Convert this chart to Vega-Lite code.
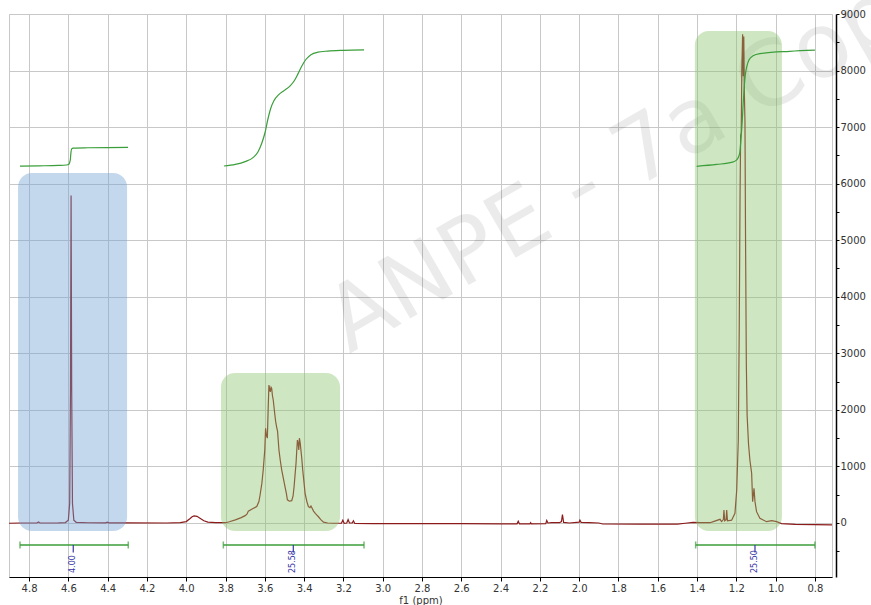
{
  "$schema": "https://vega.github.io/schema/vega-lite/v6.json",
  "width": 823,
  "height": 563,
  "autosize": {"type": "none"},
  "padding": {"left": 9, "top": 14, "right": 39, "bottom": 28},
  "background": "white",
  "config": {
    "view": {"stroke": "#c8c8c8", "strokeWidth": 1},
    "font": "DejaVu Sans"
  },
  "resolve": {"axis": {"y": "independent"}},
  "datasets": {
    "spec": [
      {"x":4.902,"y":-5},{"x":4.85,"y":0},{"x":4.76,"y":0},{"x":4.752,"y":18},{"x":4.744,"y":0},{"x":4.65,"y":2},{"x":4.615,"y":8},{"x":4.6,"y":50},{"x":4.593,"y":350},{"x":4.589,"y":2400},{"x":4.586,"y":5790},{"x":4.583,"y":2400},{"x":4.579,"y":350},{"x":4.572,"y":50},{"x":4.56,"y":12},{"x":4.5,"y":4},{"x":4.41,"y":3},{"x":4.402,"y":15},{"x":4.394,"y":3},{"x":4.3,"y":2},{"x":4.1,"y":0},{"x":4.03,"y":5},{"x":4.0,"y":25},{"x":3.98,"y":80},{"x":3.97,"y":110},{"x":3.96,"y":125},{"x":3.945,"y":118},{"x":3.93,"y":85},{"x":3.91,"y":40},{"x":3.89,"y":15},{"x":3.85,"y":5},{"x":3.8,"y":5},{"x":3.78,"y":22},{"x":3.75,"y":55},{"x":3.72,"y":95},{"x":3.7,"y":130},{"x":3.69,"y":160},{"x":3.684,"y":210},{"x":3.66,"y":255},{"x":3.641,"y":290},{"x":3.63,"y":380},{"x":3.624,"y":495},{"x":3.615,"y":700},{"x":3.608,"y":940},{"x":3.6,"y":1300},{"x":3.596,"y":1674},{"x":3.592,"y":1550},{"x":3.587,"y":1500},{"x":3.583,"y":2000},{"x":3.579,"y":2440},{"x":3.575,"y":2370},{"x":3.572,"y":2320},{"x":3.568,"y":2400},{"x":3.565,"y":2380},{"x":3.561,"y":2250},{"x":3.557,"y":2175},{"x":3.55,"y":1950},{"x":3.545,"y":1800},{"x":3.54,"y":1700},{"x":3.535,"y":1620},{"x":3.528,"y":1290},{"x":3.521,"y":1100},{"x":3.514,"y":940},{"x":3.505,"y":780},{"x":3.497,"y":640},{"x":3.49,"y":520},{"x":3.485,"y":410},{"x":3.475,"y":385},{"x":3.463,"y":395},{"x":3.456,"y":480},{"x":3.451,"y":640},{"x":3.446,"y":850},{"x":3.441,"y":1055},{"x":3.437,"y":1300},{"x":3.434,"y":1467},{"x":3.43,"y":1400},{"x":3.427,"y":1290},{"x":3.424,"y":1500},{"x":3.42,"y":1420},{"x":3.417,"y":1320},{"x":3.412,"y":1150},{"x":3.407,"y":940},{"x":3.4,"y":700},{"x":3.395,"y":525},{"x":3.386,"y":380},{"x":3.378,"y":290},{"x":3.37,"y":270},{"x":3.365,"y":300},{"x":3.361,"y":275},{"x":3.352,"y":210},{"x":3.343,"y":170},{"x":3.335,"y":140},{"x":3.327,"y":110},{"x":3.315,"y":60},{"x":3.301,"y":15},{"x":3.28,"y":0},{"x":3.25,"y":-5},{"x":3.21,"y":-5},{"x":3.203,"y":50},{"x":3.196,"y":-5},{"x":3.183,"y":0},{"x":3.176,"y":60},{"x":3.169,"y":0},{"x":3.155,"y":0},{"x":3.149,"y":40},{"x":3.142,"y":-8},{"x":3.05,"y":-10},{"x":2.8,"y":-12},{"x":2.6,"y":-12},{"x":2.4,"y":-15},{"x":2.316,"y":-15},{"x":2.31,"y":30},{"x":2.304,"y":-15},{"x":2.25,"y":-15},{"x":2.247,"y":5},{"x":2.243,"y":-15},{"x":2.17,"y":-10},{"x":2.165,"y":45},{"x":2.159,"y":0},{"x":2.14,"y":5},{"x":2.1,"y":5},{"x":2.09,"y":25},{"x":2.085,"y":150},{"x":2.079,"y":10},{"x":2.05,"y":0},{"x":2.0,"y":15},{"x":1.996,"y":50},{"x":1.99,"y":12},{"x":1.95,"y":8},{"x":1.9,"y":0},{"x":1.88,"y":-18},{"x":1.7,"y":-20},{"x":1.5,"y":-20},{"x":1.46,"y":-5},{"x":1.42,"y":10},{"x":1.385,"y":5},{"x":1.334,"y":5},{"x":1.317,"y":25},{"x":1.283,"y":65},{"x":1.275,"y":25},{"x":1.266,"y":60},{"x":1.263,"y":230},{"x":1.259,"y":40},{"x":1.252,"y":60},{"x":1.249,"y":230},{"x":1.245,"y":40},{"x":1.224,"y":50},{"x":1.207,"y":170},{"x":1.198,"y":583},{"x":1.19,"y":1467},{"x":1.185,"y":3500},{"x":1.181,"y":5800},{"x":1.178,"y":6850},{"x":1.175,"y":6900},{"x":1.172,"y":8000},{"x":1.168,"y":8640},{"x":1.165,"y":7900},{"x":1.162,"y":8600},{"x":1.159,"y":7600},{"x":1.156,"y":7100},{"x":1.153,"y":5000},{"x":1.149,"y":2800},{"x":1.145,"y":1900},{"x":1.138,"y":1400},{"x":1.131,"y":1114},{"x":1.122,"y":880},{"x":1.117,"y":377},{"x":1.11,"y":613},{"x":1.105,"y":377},{"x":1.097,"y":200},{"x":1.08,"y":83},{"x":1.046,"y":23},{"x":1.02,"y":40},{"x":0.995,"y":23},{"x":0.97,"y":-10},{"x":0.9,"y":-25},{"x":0.8,"y":-28},{"x":0.713,"y":-35}
    ],
    "integ": [
      {"g":1,"x":4.846,"y":6310},{"g":1,"x":4.75,"y":6315},{"g":1,"x":4.65,"y":6322},{"g":1,"x":4.61,"y":6330},{"g":1,"x":4.597,"y":6345},{"g":1,"x":4.59,"y":6420},{"g":1,"x":4.587,"y":6540},{"g":1,"x":4.583,"y":6615},{"g":1,"x":4.575,"y":6630},{"g":1,"x":4.5,"y":6635},{"g":1,"x":4.4,"y":6638},{"g":1,"x":4.296,"y":6640},
      {"g":2,"x":3.808,"y":6312},{"g":2,"x":3.75,"y":6340},{"g":2,"x":3.7,"y":6390},{"g":2,"x":3.66,"y":6460},{"g":2,"x":3.635,"y":6560},{"g":2,"x":3.615,"y":6720},{"g":2,"x":3.599,"y":6900},{"g":2,"x":3.585,"y":7130},{"g":2,"x":3.57,"y":7330},{"g":2,"x":3.553,"y":7470},{"g":2,"x":3.53,"y":7570},{"g":2,"x":3.5,"y":7650},{"g":2,"x":3.471,"y":7730},{"g":2,"x":3.45,"y":7820},{"g":2,"x":3.43,"y":7950},{"g":2,"x":3.41,"y":8090},{"g":2,"x":3.39,"y":8200},{"g":2,"x":3.365,"y":8280},{"g":2,"x":3.33,"y":8325},{"g":2,"x":3.28,"y":8345},{"g":2,"x":3.2,"y":8358},{"g":2,"x":3.095,"y":8365},
      {"g":3,"x":1.402,"y":6307},{"g":3,"x":1.3,"y":6340},{"g":3,"x":1.22,"y":6380},{"g":3,"x":1.198,"y":6420},{"g":3,"x":1.188,"y":6480},{"g":3,"x":1.182,"y":6560},{"g":3,"x":1.176,"y":6800},{"g":3,"x":1.17,"y":7100},{"g":3,"x":1.165,"y":7420},{"g":3,"x":1.16,"y":7700},{"g":3,"x":1.154,"y":7930},{"g":3,"x":1.146,"y":8080},{"g":3,"x":1.135,"y":8190},{"g":3,"x":1.115,"y":8260},{"g":3,"x":1.08,"y":8300},{"g":3,"x":0.928,"y":8340},{"g":3,"x":0.8,"y":8360}
    ],
    "regions": [
      {"x1":4.856,"x2":4.301,"y1":-141,"y2":6188,"kind":"blue"},
      {"x1":3.823,"x2":3.217,"y1":-141,"y2":2652,"kind":"green"},
      {"x1":1.411,"x2":0.968,"y1":-141,"y2":8699,"kind":"green"}
    ],
    "bars": [
      {"x1":4.846,"x2":4.295,"lx":4.575,"label":"4.00"},
      {"x1":3.811,"x2":3.095,"lx":3.455,"label":"25.58"},
      {"x1":1.407,"x2":0.8,"lx":1.105,"label":"25.50"}
    ],
    "mark": [
      {"x":3.17,"y":2990,"t":"ANPE - 7a Copy"}
    ]
  },
  "layer": [
    {
      "data": {"name": "spec"},
      "mark": {"type": "line", "color": "#8b1a1a", "strokeWidth": 1.2, "clip": true},
      "encoding": {
        "x": {
          "field": "x", "type": "quantitative",
          "scale": {"domain": [0.713, 4.902], "reverse": true, "nice": false, "zero": false},
          "axis": {
            "title": "f1 (ppm)",
            "values": [4.9,4.8,4.7,4.6,4.5,4.4,4.3,4.2,4.1,4.0,3.9,3.8,3.7,3.6,3.5,3.4,3.3,3.2,3.1,3.0,2.9,2.8,2.7,2.6,2.5,2.4,2.3,2.2,2.1,2.0,1.9,1.8,1.7,1.6,1.5,1.4,1.3,1.2,1.1,1.0,0.9,0.8],
            "labelExpr": "round(datum.value*10) % 2 == 0 ? format(datum.value, '.1f') : ''",
            "labelOverlap": false,
            "labelFlush": false,
            "labelFontSize": 10,
            "labelColor": "#333333",
            "labelPadding": 2,
            "tickSize": 4,
            "tickColor": "#000000",
            "domainColor": "#000000",
            "domainWidth": 1.2,
            "gridColor": "#c8c8c8",
            "gridOpacity": {"condition": {"test": "round(datum.value*10) % 2 == 0", "value": 1}, "value": 0},
            "titleFontSize": 10,
            "titleFontWeight": "normal",
            "titleColor": "#333333",
            "titlePadding": 2
          }
        },
        "y": {
          "field": "y", "type": "quantitative",
          "scale": {"domain": [-955, 9000], "nice": false, "zero": false},
          "axis": {
            "orient": "right",
            "offset": 4,
            "title": null,
            "values": [0,1000,2000,3000,4000,5000,6000,7000,8000,9000],
            "format": "d",
            "labelOverlap": false,
            "labelFlush": false,
            "labelFontSize": 10,
            "labelColor": "#333333",
            "labelPadding": 1,
            "tickSize": 3,
            "tickColor": "#000000",
            "domainColor": "#000000",
            "domainWidth": 1.5,
            "gridColor": "#c8c8c8"
          }
        }
      }
    },
    {
      "data": {"name": "mark"},
      "mark": {"type": "text", "angle": -30, "align": "left", "baseline": "alphabetic", "fontSize": 90, "font": "DejaVu Sans", "fill": "#000000", "fillOpacity": 0.08},
      "encoding": {
        "x": {"field": "x", "type": "quantitative", "title": "f1 (ppm)"},
        "y": {"field": "y", "type": "quantitative", "axis": null},
        "text": {"field": "t"}
      }
    },
    {
      "data": {"name": "regions"},
      "mark": {"type": "rect", "cornerRadius": 14},
      "encoding": {
        "x": {"field": "x1", "type": "quantitative", "title": "f1 (ppm)"},
        "x2": {"field": "x2"},
        "y": {
          "field": "y1", "type": "quantitative",
          "axis": {
            "orient": "right",
            "offset": 4,
            "title": null,
            "values": [-500,500,1500,2500,3500,4500,5500,6500,7500,8500],
            "labels": false,
            "grid": false,
            "domain": false,
            "tickSize": 3,
            "tickColor": "#000000"
          }
        },
        "y2": {"field": "y2"},
        "color": {"field": "kind", "type": "nominal", "legend": null, "scale": {"domain": ["blue", "green"], "range": ["#6f9fd3", "#8cc36e"]}},
        "opacity": {"value": 0.42}
      }
    },
    {
      "data": {"name": "integ"},
      "mark": {"type": "line", "color": "#3a9e3a", "strokeWidth": 1.2, "interpolate": "monotone"},
      "encoding": {
        "x": {"field": "x", "type": "quantitative", "title": "f1 (ppm)"},
        "y": {"field": "y", "type": "quantitative", "axis": null},
        "detail": {"field": "g"}
      }
    },
    {
      "data": {"name": "bars"},
      "mark": {"type": "rule", "color": "#3a9e3a", "strokeWidth": 1.5},
      "encoding": {
        "x": {"field": "x1", "type": "quantitative", "title": "f1 (ppm)"},
        "x2": {"field": "x2"},
        "y": {"datum": -389, "type": "quantitative", "axis": null}
      }
    },
    {
      "data": {"name": "bars"},
      "mark": {"type": "tick", "orient": "vertical", "size": 7, "thickness": 1.5, "color": "#3a9e3a"},
      "encoding": {
        "x": {"field": "x1", "type": "quantitative", "title": "f1 (ppm)"},
        "y": {"datum": -389, "type": "quantitative", "axis": null}
      }
    },
    {
      "data": {"name": "bars"},
      "mark": {"type": "tick", "orient": "vertical", "size": 7, "thickness": 1.5, "color": "#3a9e3a"},
      "encoding": {
        "x": {"field": "x2", "type": "quantitative", "title": "f1 (ppm)"},
        "y": {"datum": -389, "type": "quantitative", "axis": null}
      }
    },
    {
      "data": {"name": "bars"},
      "mark": {"type": "rule", "color": "#3535a5", "strokeWidth": 1.2},
      "encoding": {
        "x": {"field": "lx", "type": "quantitative", "title": "f1 (ppm)"},
        "y": {"datum": -389, "type": "quantitative", "axis": null},
        "y2": {"datum": -520}
      }
    },
    {
      "data": {"name": "bars"},
      "mark": {"type": "text", "angle": 270, "align": "left", "baseline": "middle", "fontSize": 8, "font": "DejaVu Sans", "color": "#3535a5"},
      "encoding": {
        "x": {"field": "lx", "type": "quantitative", "title": "f1 (ppm)"},
        "y": {"datum": -884, "type": "quantitative", "axis": null},
        "text": {"field": "label"}
      }
    }
  ]
}
